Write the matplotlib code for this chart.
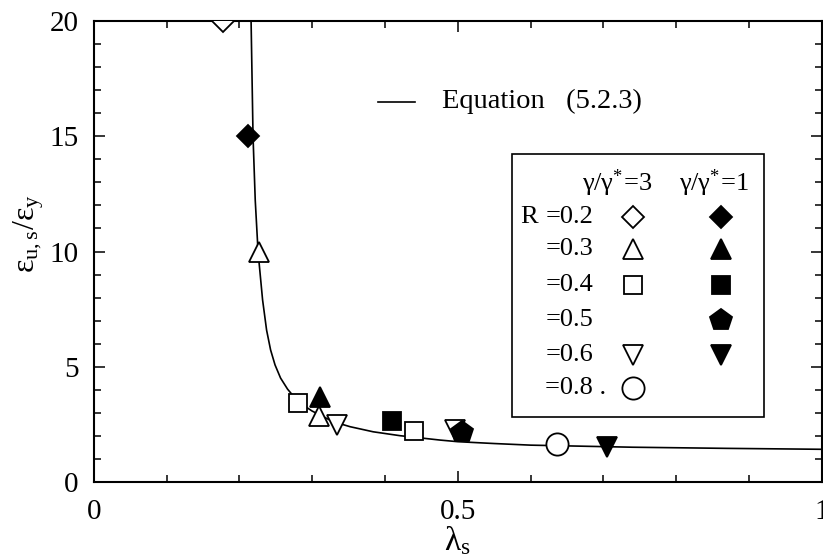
import numpy as np
import matplotlib
matplotlib.use('Agg')
import matplotlib.pyplot as plt
from matplotlib.ticker import MultipleLocator
from matplotlib.patches import Rectangle

# Equation (5.2.3), points
eq_lam = [0.2150, 0.2161, 0.2188, 0.2218, 0.2257, 0.2319, 0.2374, 0.2429,
          0.2490, 0.2566, 0.2662, 0.2765, 0.2875, 0.2999, 0.3136, 0.3287,
          0.3521, 0.3837, 0.4207, 0.4757, 0.5000, 0.5500, 0.6000, 0.7400,
          0.8700, 1.0000]
eq_eps = [22.0, 20.0, 14.97, 12.23, 9.98, 7.90, 6.59, 5.73,
          5.08, 4.51, 4.03, 3.64, 3.34, 3.08, 2.86, 2.62,
          2.40, 2.18, 2.01, 1.82, 1.75, 1.67, 1.60, 1.51,
          1.46, 1.42]

# test results, gamma/gamma* = 3 (open) and gamma/gamma* = 1 (filled)
r02_g3_lam = [0.178]
r02_g3_eps = [20.0]
r02_g1_lam = [0.212]
r02_g1_eps = [15.0]
r03_g3_lam = [0.227, 0.3095]
r03_g3_eps = [10.0, 2.86]
r03_g1_lam = [0.311]
r03_g1_eps = [3.70]
r04_g3_lam = [0.281, 0.440]
r04_g3_eps = [3.44, 2.23]
r04_g1_lam = [0.410]
r04_g1_eps = [2.66]
r05_g1_lam = [0.5055]
r05_g1_eps = [2.18]
r06_g3_lam = [0.334, 0.496]
r06_g3_eps = [2.47, 2.26]
r06_g1_lam = [0.705]
r06_g1_eps = [1.52]
r08_g3_lam = [0.636]
r08_g3_eps = [1.65]

row_labels = ['=0.2', '=0.3', '=0.4', '=0.5', '=0.6', '=0.8 .']
col_labels = [r'$\gamma/\gamma^{*}\!=\!3$', r'$\gamma/\gamma^{*}\!=\!1$']

matplotlib.rcParams['font.family'] = ['Liberation Serif', 'DejaVu Serif']
matplotlib.rcParams['mathtext.fontset'] = 'custom'
matplotlib.rcParams['mathtext.rm'] = 'Liberation Serif'
matplotlib.rcParams['mathtext.it'] = 'Liberation Serif:italic'
matplotlib.rcParams['mathtext.default'] = 'rm'

# marker style per R value: (marker, size)
mk = {'0.2': ('D', 11.5), '0.3': ('^', 14), '0.4': ('s', 12.5),
      '0.5': ('p', 16), '0.6': ('v', 14), '0.8': ('o', 16)}


def pts(ax, x, y, key, filled, **kw):
    m, s = mk[key]
    ax.plot(x, y, linestyle='none', marker=m, markersize=s,
            markerfacecolor='black' if filled else 'white',
            markeredgecolor='black', markeredgewidth=1.3, **kw)


def main():

    fig = plt.figure(figsize=(8.23, 5.59), dpi=100)
    ax = fig.add_axes([0.1139, 0.1377, 0.8847, 0.8247])

    ax.plot(eq_lam, eq_eps, color='black', linewidth=1.2, zorder=2)

    pts(ax, r02_g3_lam, r02_g3_eps, '0.2', False, zorder=3)
    pts(ax, r02_g1_lam, r02_g1_eps, '0.2', True, zorder=3)
    pts(ax, r03_g3_lam, r03_g3_eps, '0.3', False, zorder=3)
    pts(ax, r03_g1_lam, r03_g1_eps, '0.3', True, zorder=3)
    pts(ax, r04_g3_lam, r04_g3_eps, '0.4', False, zorder=3)
    pts(ax, r04_g1_lam, r04_g1_eps, '0.4', True, zorder=3)
    pts(ax, r06_g3_lam, r06_g3_eps, '0.6', False, zorder=3)
    pts(ax, r05_g1_lam, r05_g1_eps, '0.5', True, zorder=4)
    pts(ax, r06_g1_lam, r06_g1_eps, '0.6', True, zorder=3)
    pts(ax, r08_g3_lam, r08_g3_eps, '0.8', False, zorder=3)

    ax.set_xlim(0, 1)
    ax.set_ylim(0, 20)

    # ticks
    ax.xaxis.set_minor_locator(MultipleLocator(0.1))
    ax.yaxis.set_major_locator(MultipleLocator(5))
    ax.yaxis.set_minor_locator(MultipleLocator(1))
    ax.xaxis.set_ticks([0, 0.5, 1])
    ax.xaxis.set_ticklabels(['0', '0.5', '1'])
    ax.tick_params(which='both', direction='in', top=True, right=True, width=1.1)
    ax.tick_params(which='major', length=8, labelsize=21)
    ax.tick_params(which='minor', length=5)
    ax.tick_params(axis='x', which='major', pad=12)
    ax.tick_params(axis='y', which='major', pad=11)
    for sp in ax.spines.values():
        sp.set_linewidth(1.5)

    ax.set_xlabel(r'$\lambda_{s}$', fontsize=24)
    ax.xaxis.set_label_coords(0.5, -0.092)
    ax.set_ylabel(r'$\varepsilon_{u,s}/\varepsilon_{y}$', fontsize=23)
    ax.yaxis.set_label_coords(-0.066, 0.54)

    # equation key
    ax.plot([0.3905, 0.4413], [0.825, 0.825], color='black', linewidth=1.2,
            transform=ax.transAxes)
    ax.text(0.4784, 0.825, 'Equation   (5.2.3)', fontsize=20.5, va='center',
            transform=ax.transAxes)

    # hand made table legend
    ax.add_patch(Rectangle((0.5745, 0.141), 0.3462, 0.5705, fill=False,
                           edgecolor='black', linewidth=1.2,
                           transform=ax.transAxes, zorder=5))
    ax.text(0.720, 0.649, col_labels[0], fontsize=19, ha='center', va='center',
            transform=ax.transAxes)
    ax.text(0.852, 0.649, col_labels[1], fontsize=19, ha='center', va='center',
            transform=ax.transAxes)
    row_y = [0.575, 0.505, 0.427, 0.351, 0.275, 0.204]
    keys = ['0.2', '0.3', '0.4', '0.5', '0.6', '0.8']
    has_g3 = [True, True, True, False, True, True]
    has_g1 = [True, True, True, True, True, False]
    ax.text(0.5856, row_y[0], 'R', fontsize=19, va='center',
            transform=ax.transAxes)
    for i in range(len(keys)):
        ax.text(0.620, row_y[i], row_labels[i], fontsize=19, va='center',
                transform=ax.transAxes)
        if has_g3[i]:
            pts(ax, [0.741], [row_y[i]], keys[i], False,
                transform=ax.transAxes, clip_on=False)
        if has_g1[i]:
            pts(ax, [0.862], [row_y[i]], keys[i], True,
                transform=ax.transAxes, clip_on=False)

    plt.savefig('out.png', dpi=100)


if __name__ == '__main__':
    main()
